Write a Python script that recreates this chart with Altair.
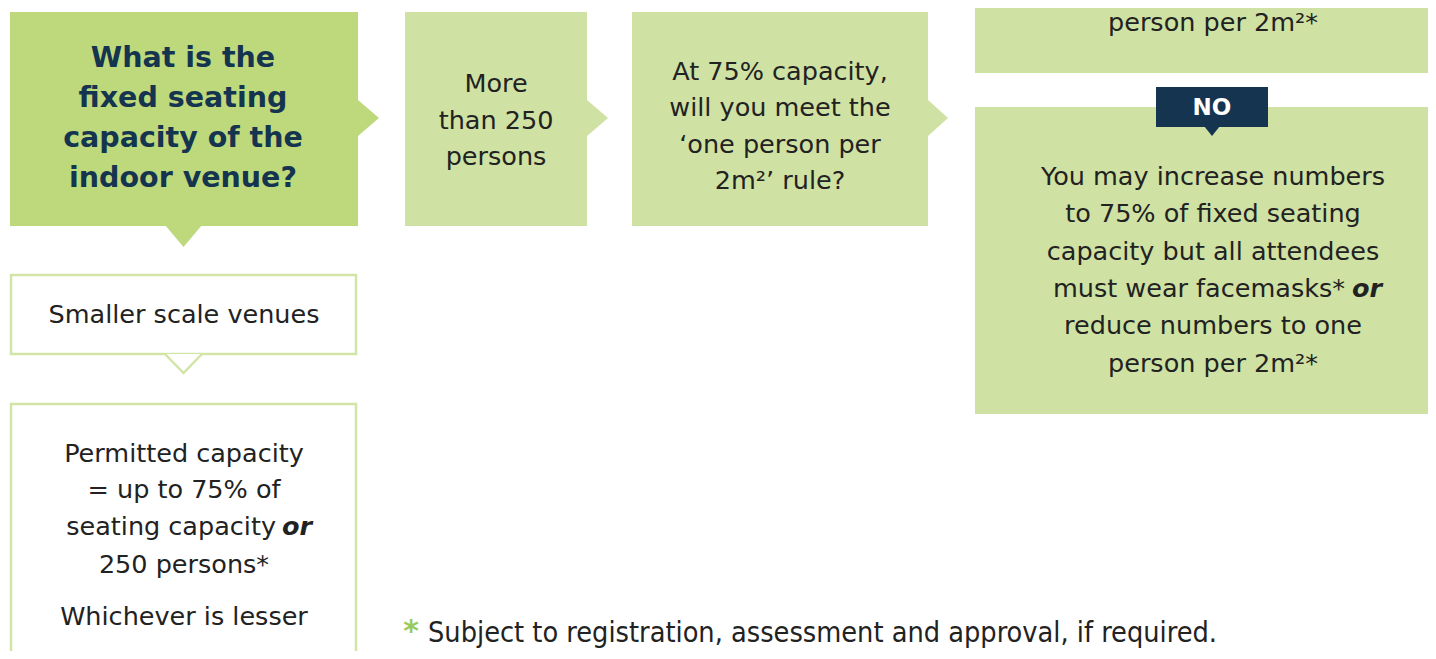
import altair as alt
import pandas as pd

# ---------------- diagram data (diagram units = reference pixels) ----------------
# filled boxes
main_box = {"x0": [10], "x1": [358], "y0": [12], "y1": [226]}
light_boxes = {"x0": [405, 632, 975, 975], "x1": [587, 928, 1440, 1440],
               "y0": [12, 12, 0, 107], "y1": [226, 226, 73, 414]}
navy_boxes = {"x0": [1156], "x1": [1268], "y0": [87], "y1": [127]}
outline_boxes = {"x0": [11, 11], "x1": [356, 356], "y0": [275, 404], "y1": [354, 700]}

# right-pointing arrows: base x, tip x, base top, base bottom, tip y
arrow_id = ["a1", "a2", "a3"]
arrow_base_x = [358, 587, 928]
arrow_tip_x = [379, 608, 948]
arrow_top = [100, 100, 100]
arrow_bot = [136, 136, 136]
arrow_tip_y = [118, 118, 118]
arrow_kind = ["main", "light", "light"]

# down-pointing pointers: base y, tip y, base left, base right, tip x
down_id = ["d1", "d2", "d3"]
down_base_y = [225, 354, 126]
down_tip_y = [247, 373, 136]
down_left = [165, 165, 1204]
down_right = [202, 202, 1220]
down_tip_x = [183.5, 183.5, 1212]
down_kind = ["main", "outline", "navy"]

# text lines
main_lines = ["What is the", "fixed seating", "capacity of the", "indoor venue?"]
main_x = [183] * 4
main_y = [67, 107, 147, 187]

body_lines = ["More", "than 250", "persons",
              "At 75% capacity,", "will you meet the", "\u2018one person per", "2m\u00b2\u2019 rule?",
              "person per 2m\u00b2*",
              "You may increase numbers", "to 75% of fixed seating", "capacity but all attendees",
              "reduce numbers to one", "person per 2m\u00b2*",
              "Smaller scale venues",
              "Permitted capacity", "= up to 75% of", "250 persons*", "Whichever is lesser"]
body_x = [496, 496, 496,
          780, 780, 780, 780,
          1213,
          1213, 1213, 1213, 1213, 1213,
          184,
          184, 184, 184, 184]
body_y = [92, 129, 165,
          80, 116, 153, 189,
          31,
          185, 222, 260, 334, 372,
          323,
          462, 498, 573, 625]

# lines that end with a bold-italic "or"
split_lines = ["must wear facemasks*", "seating capacity"]
split_x = [1345, 276]
split_y = [297, 535]
or_text = ["or", "or"]
or_x = [1352, 282]

no_label = ["NO"]
no_x = [1212]
no_y = [115]

foot_star = ["*"]
foot_star_x = [411]
foot_star_y = [641]
foot_text = ["Subject to registration, assessment and approval, if required."]
foot_x = [428]
foot_y = [642]

# ---------------- styling ----------------
MAIN_GREEN = "#bdd97b"
LIGHT_GREEN = "#cfe1a3"
OUTLINE_GREEN = "#d2e5a6"
NAVY = "#14344f"
INK = "#222222"
FONT = "DejaVu Sans"
BODY_SIZE = 25.5

W, H = 1420, 643
xs = alt.Scale(domain=[8, 8 + W], nice=False, zero=False)
ys = alt.Scale(domain=[8, 8 + H], nice=False, zero=False, reverse=True)
X = lambda f: alt.X(f, type="quantitative", scale=xs, axis=None)
Y = lambda f: alt.Y(f, type="quantitative", scale=ys, axis=None)


def rect_layer(d, **mark):
    return alt.Chart(pd.DataFrame(d)).mark_rect(clip=True, **mark).encode(
        x=X("x0"), x2="x1", y=Y("y0"), y2="y1")


main_rect = rect_layer(main_box, color=MAIN_GREEN)
light_rect = rect_layer(light_boxes, color=LIGHT_GREEN)
navy_rect = rect_layer(navy_boxes, color=NAVY)
outline_rect = rect_layer(outline_boxes, fill="white", stroke=OUTLINE_GREEN, strokeWidth=2.5)

# right arrows as areas (x, y, y2)
ar_rows = []
for i, k in enumerate(arrow_id):
    ar_rows.append({"id": k, "kind": arrow_kind[i], "x": arrow_base_x[i], "y": arrow_top[i], "y2": arrow_bot[i]})
    ar_rows.append({"id": k, "kind": arrow_kind[i], "x": arrow_tip_x[i], "y": arrow_tip_y[i], "y2": arrow_tip_y[i]})
ar_df = pd.DataFrame(ar_rows)


def right_arrows(kind, col):
    return alt.Chart(ar_df[ar_df.kind == kind]).mark_area(orient="vertical", color=col).encode(
        x=X("x"), y=Y("y"), y2="y2", detail="id:N")


# down pointers as areas (y, x, x2)
dn_rows = []
for i, k in enumerate(down_id):
    dn_rows.append({"id": k, "kind": down_kind[i], "y": down_base_y[i], "x": down_left[i], "x2": down_right[i]})
    dn_rows.append({"id": k, "kind": down_kind[i], "y": down_tip_y[i], "x": down_tip_x[i], "x2": down_tip_x[i]})
dn_df = pd.DataFrame(dn_rows)


def down_arrows(kind, col):
    return alt.Chart(dn_df[dn_df.kind == kind]).mark_area(orient="horizontal", color=col).encode(
        y=Y("y"), x=X("x"), x2="x2", detail="id:N")


# outline pointer stroke
ol_line = pd.DataFrame({
    "x": [down_left[1], down_tip_x[1], down_right[1]],
    "y": [down_base_y[1], down_tip_y[1], down_base_y[1]],
    "o": [0, 1, 2]})
outline_pointer_line = alt.Chart(ol_line).mark_line(color=OUTLINE_GREEN, strokeWidth=2.5).encode(
    x=X("x"), y=Y("y"), order="o:Q")


def text_layer(texts, xs_, ys_, **mark):
    df = pd.DataFrame({"t": texts, "x": xs_, "y": ys_})
    return alt.Chart(df).mark_text(baseline="alphabetic", **mark).encode(
        x=X("x"), y=Y("y"), text="t:N")


main_text = text_layer(main_lines, main_x, main_y, font=FONT, fontSize=28.5, fontWeight="bold",
                       color=NAVY, align="center")
body_text = text_layer(body_lines, body_x, body_y, font=FONT, fontSize=BODY_SIZE, color=INK, align="center")
split_text = text_layer(split_lines, split_x, split_y, font=FONT, fontSize=BODY_SIZE, color=INK, align="right")
or_layer = text_layer(or_text, or_x, split_y, font=FONT, fontSize=BODY_SIZE, color=INK, align="left",
                      fontWeight="bold", fontStyle="italic")
no_text = text_layer(no_label, no_x, no_y, font=FONT, fontSize=23, fontWeight="bold", color="white",
                     align="center")
star_text = text_layer(foot_star, foot_star_x, foot_star_y, font=FONT, fontSize=30, fontWeight="bold",
                       color="#98cb5e", align="center")
foot_layer = text_layer(foot_text, foot_x, foot_y, font="DejaVu Sans Condensed", fontSize=28.6,
                        color=INK, align="left")

chart = alt.layer(
    main_rect, light_rect, outline_rect,
    right_arrows("main", MAIN_GREEN), right_arrows("light", LIGHT_GREEN),
    down_arrows("main", MAIN_GREEN), down_arrows("outline", "white"), outline_pointer_line,
    navy_rect, down_arrows("navy", NAVY),
    main_text, body_text, split_text, or_layer, no_text, star_text, foot_layer,
).properties(width=W, height=H, padding=0, autosize="none", background="white").configure_view(stroke=None)

chart.save("out.html", embed_options={"renderer": "svg", "actions": False})
